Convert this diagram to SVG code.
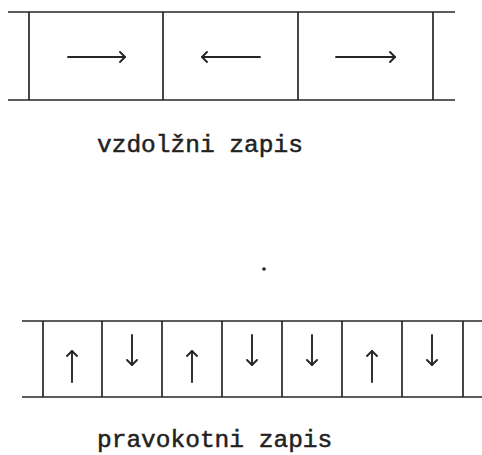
<svg xmlns="http://www.w3.org/2000/svg" width="482" height="455" viewBox="0 0 482 455">
  <style>
    .ln { stroke: #262626; stroke-width: 1.7; fill: none; }
    .ar { stroke: #262626; stroke-width: 1.9; fill: none; stroke-linecap: round; stroke-linejoin: round; }
    .lbl { font-family: "Liberation Mono", "DejaVu Sans Mono", monospace; font-size: 24.5px; fill: #222; stroke: #222; stroke-width: 0.5; }
  </style>
  <defs>
    <!-- open chevron arrowhead pointing right -->
    <path id="hR" d="M-5,-5 L0,0 L-5,5" class="ar"/>
  </defs>
  <rect width="482" height="455" fill="#fff"/>

  <!-- longitudinal track -->
  <g id="track-longitudinal">
    <line class="ln" x1="8" y1="12" x2="455" y2="12"/>
    <line class="ln" x1="8" y1="100" x2="455" y2="100"/>
    <line class="ln" x1="29" y1="12" x2="29" y2="100"/>
    <line class="ln" x1="163" y1="12" x2="163" y2="100"/>
    <line class="ln" x1="298" y1="12" x2="298" y2="100"/>
    <line class="ln" x1="433" y1="12" x2="433" y2="100"/>
  </g>
  <g id="cell-l1">
    <line class="ar" x1="68" y1="57" x2="125" y2="57"/>
    <use href="#hR" x="125" y="57"/>
  </g>
  <g id="cell-l2">
    <line class="ar" x1="202" y1="57" x2="260" y2="57"/>
    <use href="#hR" transform="translate(202,57) rotate(180)"/>
  </g>
  <g id="cell-l3">
    <line class="ar" x1="336" y1="57" x2="395" y2="57"/>
    <use href="#hR" x="395" y="57"/>
  </g>
  <text id="label-longitudinal" class="lbl" x="97" y="152">vzdolžni zapis</text>

  <circle id="dot" cx="264" cy="269" r="1.8" fill="#222"/>

  <!-- perpendicular track -->
  <g id="track-perpendicular">
    <line class="ln" x1="22" y1="321" x2="482" y2="321"/>
    <line class="ln" x1="22" y1="397" x2="482" y2="397"/>
    <line class="ln" x1="43" y1="321" x2="43" y2="397"/>
    <line class="ln" x1="102" y1="321" x2="102" y2="397"/>
    <line class="ln" x1="162" y1="321" x2="162" y2="397"/>
    <line class="ln" x1="222" y1="321" x2="222" y2="397"/>
    <line class="ln" x1="282" y1="321" x2="282" y2="397"/>
    <line class="ln" x1="342" y1="321" x2="342" y2="397"/>
    <line class="ln" x1="402" y1="321" x2="402" y2="397"/>
    <line class="ln" x1="463" y1="321" x2="463" y2="397"/>
  </g>
  <g id="cell-p1">
    <line class="ar" x1="72" y1="382" x2="72" y2="351"/>
    <use href="#hR" transform="translate(72,351) rotate(-90)"/>
  </g>
  <g id="cell-p2">
    <line class="ar" x1="132" y1="335" x2="132" y2="365"/>
    <use href="#hR" transform="translate(132,365) rotate(90)"/>
  </g>
  <g id="cell-p3">
    <line class="ar" x1="192" y1="382" x2="192" y2="351"/>
    <use href="#hR" transform="translate(192,351) rotate(-90)"/>
  </g>
  <g id="cell-p4">
    <line class="ar" x1="252" y1="335" x2="252" y2="365"/>
    <use href="#hR" transform="translate(252,365) rotate(90)"/>
  </g>
  <g id="cell-p5">
    <line class="ar" x1="312" y1="335" x2="312" y2="365"/>
    <use href="#hR" transform="translate(312,365) rotate(90)"/>
  </g>
  <g id="cell-p6">
    <line class="ar" x1="372" y1="382" x2="372" y2="351"/>
    <use href="#hR" transform="translate(372,351) rotate(-90)"/>
  </g>
  <g id="cell-p7">
    <line class="ar" x1="432" y1="335" x2="432" y2="365"/>
    <use href="#hR" transform="translate(432,365) rotate(90)"/>
  </g>
  <text id="label-perpendicular" class="lbl" x="97" y="447">pravokotni zapis</text>
</svg>
